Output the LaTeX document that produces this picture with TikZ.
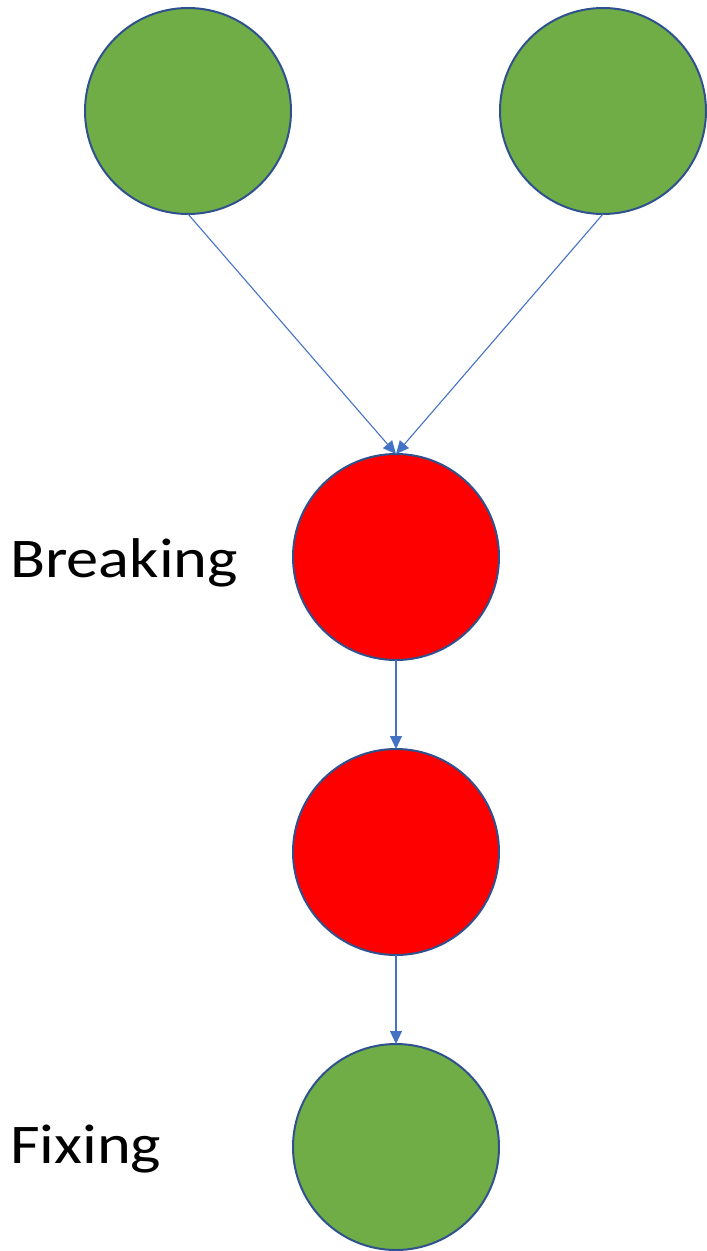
\documentclass[tikz,border=0pt]{standalone}
\usepackage{fontspec}
\setmainfont{Carlito}
\usetikzlibrary{arrows.meta}
\definecolor{ggreen}{HTML}{70AD47}
\definecolor{rred}{HTML}{FF0000}
\definecolor{bord}{HTML}{2F528F}
\definecolor{arr}{HTML}{4472C4}
\begin{document}
\begin{tikzpicture}[x=1pt,y=-1pt,
  ball/.style={circle,draw=bord,line width=2pt,minimum size=206pt,inner sep=0pt,outer sep=0pt},
  conn/.style={draw=arr,line width=1.1pt,-{Triangle[length=13pt,width=12pt]}},
  lbl/.style={anchor=base west,inner sep=0pt,font=\fontsize{56}{62}\selectfont}]
\useasboundingbox (0,0) rectangle (707,1251);
\node[ball,fill=ggreen] (tl) at (188,111) {};
\node[ball,fill=ggreen] (tr) at (603,111) {};
\node[ball,fill=rred] (r1) at (396,557) {};
\node[ball,fill=rred] (r2) at (396,852) {};
\node[ball,fill=ggreen] (g) at (396,1147) {};
\draw[conn] (tl.south) -- (r1.north);
\draw[conn] (tr.south) -- (r1.north);
\draw[conn] (r1.south) -- (r2.north);
\draw[conn] (r2.south) -- (g.north);
\node[lbl] (brk) at (10,577) {\scalebox{1.15}[1]{Breaking}};
\node[lbl] (fix) at (10,1163) {\scalebox{1.15}[1]{Fixing}};
\end{tikzpicture}
\end{document}
